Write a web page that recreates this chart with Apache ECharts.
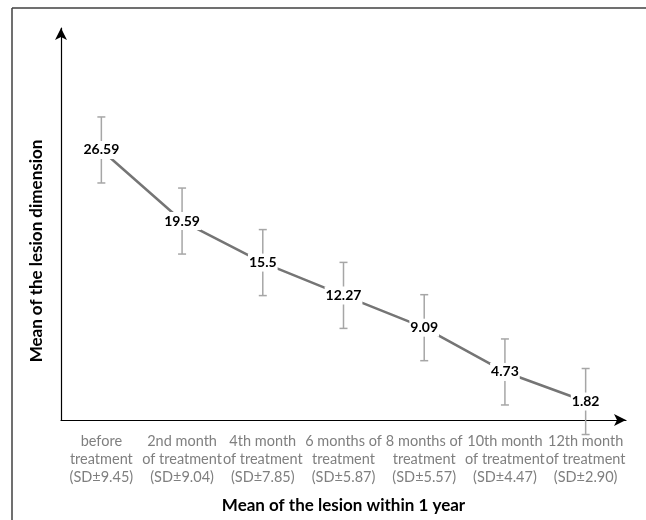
<!DOCTYPE html>
<html>
<head>
<meta charset="utf-8">
<script src="https://cdn.jsdelivr.net/npm/echarts@6/dist/echarts.min.js"></script>
<style>
  html, body { margin: 0; padding: 0; background: #fff; }
  #chart { width: 646px; height: 520px; }
</style>
</head>
<body>
<div id="chart"></div>
<script>
// categories shown on the x axis (3 lines each)
var categories = [
  'before\ntreatment\n(SD±9.45)',
  '2nd month\nof treatment\n(SD±9.04)',
  '4th month\nof treatment\n(SD±7.85)',
  '6 months of\ntreatment\n(SD±5.87)',
  '8 months of\ntreatment\n(SD±5.57)',
  '10th month\nof treatment\n(SD±4.47)',
  '12th month\nof treatment\n(SD±2.90)'
]
// mean lesion dimension
var means = [26.59, 19.59, 15.5, 12.27, 9.09, 4.73, 1.82]
// error bar half length as drawn in the picture
var errors = [3.25, 3.25, 3.25, 3.25, 3.25, 3.25, 3.25]

var font = 'Lato'

var chart = echarts.init(document.getElementById('chart'))

var errData = means.map(function (m, i) {
  return [i, m - errors[i], m + errors[i]]
})

var option = {
  animation: false,
  backgroundColor: '#fff',
  grid: { left: 61, right: 20, top: 28, bottom: 100 },
  graphic: [
    { type: 'line', shape: { x1: 12, y1: 8, x2: 646, y2: 8 }, style: { stroke: '#404040', lineWidth: 1.5 } },
    { type: 'line', shape: { x1: 12, y1: 8, x2: 12, y2: 520 }, style: { stroke: '#404040', lineWidth: 1.5 } }
  ],
  xAxis: {
    type: 'category',
    data: categories,
    name: 'Mean of the lesion within 1 year',
    nameLocation: 'middle',
    nameGap: 77,
    nameTextStyle: { fontFamily: font, fontWeight: 'bold', fontSize: 17, color: '#000' },
    axisLine: { lineStyle: { color: '#000', width: 1.2 }, symbol: ['none', 'arrow'], symbolSize: [9, 12] },
    axisTick: { show: false },
    axisLabel: { interval: 0, fontFamily: font, fontSize: 14.5, lineHeight: 18, color: '#7f7f7f', margin: 12 }
  },
  yAxis: {
    type: 'value',
    min: 0,
    max: 38.6,
    name: 'Mean of the lesion dimension',
    nameLocation: 'middle',
    nameGap: 16,
    nameRotate: 90,
    nameTextStyle: { fontFamily: font, fontWeight: 'bold', fontSize: 17, color: '#000', padding: [0, 54, 0, 0] },
    axisLine: { show: true, lineStyle: { color: '#000', width: 1.2 }, symbol: ['none', 'arrow'], symbolSize: [9, 12] },
    axisTick: { show: false },
    axisLabel: { show: false },
    splitLine: { show: false }
  },
  series: [
    {
      type: 'custom',
      data: errData,
      z: 1,
      renderItem: function (params, api) {
        var x = api.value(0)
        var lo = api.coord([x, api.value(1)])
        var hi = api.coord([x, api.value(2)])
        var w = 4
        var st = { stroke: '#a6a6a6', lineWidth: 1.5 }
        return {
          type: 'group',
          children: [
            { type: 'line', shape: { x1: lo[0], y1: lo[1], x2: hi[0], y2: hi[1] }, style: st },
            { type: 'line', shape: { x1: lo[0] - w, y1: lo[1], x2: lo[0] + w, y2: lo[1] }, style: st },
            { type: 'line', shape: { x1: hi[0] - w, y1: hi[1], x2: hi[0] + w, y2: hi[1] }, style: st }
          ]
        }
      }
    },
    {
      type: 'line',
      data: means,
      z: 2,
      symbol: 'circle',
      symbolSize: 1,
      itemStyle: { color: '#757575' },
      lineStyle: { color: '#757575', width: 2.5 },
      label: {
        show: true,
        position: 'inside',
        fontFamily: font,
        fontWeight: 'bold',
        fontSize: 14,
        color: '#000',
        backgroundColor: '#fff',
        padding: [2, 1]
      }
    }
  ]
}

chart.setOption(option)
</script>
</body>
</html>
